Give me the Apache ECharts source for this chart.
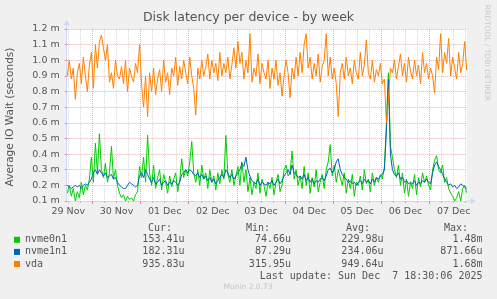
<!DOCTYPE html>
<html><head><meta charset="utf-8">
<script src="https://cdn.jsdelivr.net/npm/echarts@6/dist/echarts.min.js"></script>
<style>html,body{margin:0;padding:0;background:#f0f0f0}#c{width:497px;height:299px}</style>
</head><body><div id="c"></div>
<script>
// hours are counted from 29 Nov 00:00
const axisStartHour = 11.2;
const axisEndHour = 210.5;
const firstSampleHour = 11.5;   // one sample per hour
const dayLabels = ['29 Nov','30 Nov','01 Dec','02 Dec','03 Dec','04 Dec','05 Dec','06 Dec','07 Dec'];
const seriesNames = ['nvme0n1','nvme1n1','vda'];
const seriesColors = ['#00CC00','#0066B3','#FF8000'];

// values in milliseconds
const nvme0n1Ms = [
 0.15,0.2,0.13,0.18,0.1,0.16,0.12,0.22,0.14,0.2,0.17,0.24,
 0.38,0.22,0.47,0.28,0.53,
 0.3,0.25,0.34,0.22,0.28,0.45,0.24,0.3,0.2,
 0.15,0.12,0.14,0.1,0.13,0.11,0.12,0.1,0.14,0.16,
 0.32,0.25,0.38,0.22,0.52,
 0.28,0.2,0.33,0.18,0.25,0.3,0.17,0.27,0.22,0.15,0.26,0.19,0.24,0.28,0.16,0.23,
 0.37,0.25,0.3,0.26,0.35,0.48,0.28,0.22,
 0.3,0.2,0.33,0.24,0.28,0.18,0.3,0.22,0.26,0.17,0.28,0.21,0.3,0.24,
 0.52,0.27,0.22,0.3,0.2,0.26,
 0.32,0.2,0.35,0.22,0.3,0.16,0.25,0.14,0.22,0.18,0.28,0.15,0.24,0.2,0.13,0.22,
 0.18,0.25,0.14,0.22,0.27,0.16,0.2,0.3,
 0.33,0.26,0.28,0.42,0.24,0.3,0.2,
 0.26,0.18,0.32,0.2,0.28,0.15,0.25,0.19,0.3,0.16,0.22,0.27,0.18,
 0.3,0.35,0.46,0.26,0.33,0.22,0.3,0.25,
 0.2,0.28,0.15,0.24,0.18,0.27,0.13,0.22,0.2,0.26,0.17,0.3,0.21,0.24,0.16,0.28,0.2,0.25,0.22,0.27,0.24,0.32,
 0.6,0.92,0.45,
 0.38,0.3,0.25,0.33,0.2,0.28,0.15,0.24,0.13,0.22,0.18,0.27,0.14,0.25,0.19,0.28,0.22,0.26,0.2,0.17,
 0.3,0.36,0.39,0.3,0.28,0.33,0.22,0.25,0.18,
 0.15,0.13,0.1,0.12,0.16,0.1,0.18,0.2,
 0.153
];
const nvme1n1Ms = [
 0.2,0.19,0.18,0.19,0.2,0.19,0.2,0.18,0.2,0.21,0.2,0.22,
 0.24,0.28,0.3,0.27,0.3,
 0.28,0.26,0.28,0.25,0.26,0.27,0.24,0.25,0.22,
 0.2,0.19,0.18,0.18,0.2,0.22,0.21,0.2,0.19,0.2,
 0.26,0.28,0.25,0.3,0.27,
 0.24,0.22,0.25,0.21,0.22,0.24,0.2,0.22,0.23,0.2,0.22,0.21,0.23,0.22,0.2,0.22,
 0.27,0.28,0.3,0.28,0.3,0.29,0.27,0.26,
 0.28,0.25,0.27,0.24,0.26,0.23,0.25,0.22,0.24,0.21,0.23,0.25,0.27,0.25,
 0.3,0.28,0.25,0.27,0.24,0.26,
 0.28,0.3,0.34,0.32,0.38,0.3,0.26,0.23,0.22,0.21,0.24,0.2,0.22,0.21,0.2,0.22,
 0.21,0.23,0.2,0.22,0.24,0.21,0.23,0.26,
 0.28,0.3,0.27,0.33,0.28,0.27,0.25,
 0.26,0.24,0.27,0.23,0.25,0.22,0.24,0.21,0.23,0.22,0.24,0.25,0.23,
 0.26,0.3,0.31,0.28,0.3,0.35,0.37,0.3,
 0.27,0.25,0.24,0.22,0.23,0.21,0.22,0.2,0.22,0.23,0.21,0.24,0.22,0.23,0.21,0.24,0.22,0.25,0.24,0.26,0.27,0.3,
 0.55,0.88,0.4,
 0.3,0.27,0.26,0.28,0.24,0.25,0.22,0.23,0.21,0.22,0.21,0.23,0.2,0.22,0.21,0.23,0.22,0.24,0.22,0.21,
 0.28,0.33,0.35,0.32,0.3,0.27,0.24,0.22,0.2,
 0.21,0.19,0.2,0.18,0.19,0.21,0.2,0.19,
 0.182
];
const vdaMs = [
 0.9,1.0,0.88,0.95,0.75,0.92,0.98,0.85,1.02,0.9,0.8,0.97,
 1.05,0.82,1.1,0.95,1.12,1.16,1.08,1.0,1.1,0.86,0.92,0.82,1.0,0.9,
 0.88,0.96,0.85,1.0,0.8,0.95,0.9,0.86,0.98,0.92,
 1.1,0.85,0.7,0.9,0.64,
 0.92,0.8,0.95,0.78,0.88,0.94,0.8,1.0,0.86,0.92,0.78,0.95,0.9,1.02,0.84,0.96,
 0.88,1.0,0.92,0.85,1.02,0.9,0.82,0.65,
 0.95,0.88,1.0,0.9,0.96,1.04,0.88,1.0,0.92,0.98,0.87,1.05,0.9,0.98,
 0.92,1.02,0.88,0.97,1.08,0.95,
 1.12,0.98,1.05,0.88,1.0,0.92,1.17,0.86,0.95,0.9,1.04,0.85,0.98,0.92,0.88,1.0,
 0.82,0.95,0.88,1.0,0.84,0.92,0.77,0.9,
 1.0,0.92,0.76,0.95,0.88,1.02,0.9,
 1.05,0.92,1.1,1.17,0.95,1.02,0.88,0.98,0.9,1.04,0.86,0.96,1.0,
 1.17,0.9,1.02,0.88,0.95,0.85,0.64,0.92,
 0.98,0.88,1.02,0.9,0.95,0.85,1.0,0.92,0.88,1.05,0.9,0.97,1.13,0.92,0.88,1.0,0.86,0.94,0.9,0.98,0.85,0.88,
 0.6,0.75,0.95,
 0.92,1.0,0.88,0.96,1.04,0.9,0.98,0.86,1.02,0.93,0.88,1.0,0.9,0.97,0.85,1.05,0.92,0.98,0.88,0.95,
 0.9,0.79,1.02,0.94,1.17,0.92,1.05,0.98,1.14,
 0.9,1.02,0.95,0.88,1.05,0.92,0.98,1.12,
 0.936
];
const curVals = ['153.41u','182.31u','935.83u'];
const minVals = ['74.66u','87.29u','315.95u'];
const avgVals = ['229.98u','234.06u','949.64u'];
const maxVals = ['1.48m','871.66u','1.68m'];
const lastUpdate = 'Last update: Sun Dec  7 18:30:06 2025';

const dayTicks = [], sixHourTicks = [], noonTicks = [];
for (let h = 0; h <= 216; h += 6) {
  if (h < axisStartHour || h > axisEndHour) continue;
  if (h % 24 === 0) dayTicks.push(h);
  else sixHourTicks.push(h);
  if (h % 24 === 12) noonTicks.push(h);
}
noonTicks.unshift(12);
const uniqNoon = Array.from(new Set(noonTicks.concat([12]))).sort((a,b)=>a-b);

const allData = [nvme0n1Ms, nvme1n1Ms, vdaMs];
const series = allData.map((arr, k) => ({
  name: seriesNames[k], type: 'line', showSymbol: false, symbol: 'none',
  sampling: null, clip: true, animation: false,
  lineStyle: { width: 1, color: seriesColors[k] }, itemStyle: { color: seriesColors[k] },
  data: arr.map((v, i) => [firstSampleHour + i, v])
}));

const arrowPath = 'path://M3,0 L6,5 L3.5,5 L3.5,9 L2.5,9 L2.5,5 L0,5 Z';
const axisColor = '#CFD6F8';
const mono = '"DejaVu Sans Mono", monospace';
const txtColor = '#555';
function txt(text, x, y, align, extra) {
  return Object.assign({ type: 'text', silent: true, style: Object.assign({
    text: text, x: x, y: y, textAlign: align, textVerticalAlign: 'middle',
    fontFamily: mono, fontSize: 10, fill: txtColor }, extra || {}) });
}
const graphics = [];
graphics.push(txt('Cur:', 172, 228, 'right'));
graphics.push(txt('Min:', 270, 228, 'right'));
graphics.push(txt('Avg:', 370, 228, 'right'));
graphics.push(txt('Max:', 468, 228, 'right'));
for (let r = 0; r < 3; r++) {
  const y = 239.8 + r * 12.1;
  graphics.push(txt(curVals[r], 184.5, y, 'right'));
  graphics.push(txt(minVals[r], 291, y, 'right'));
  graphics.push(txt(avgVals[r], 383.5, y, 'right'));
  graphics.push(txt(maxVals[r], 482.5, y, 'right'));
}
graphics.push(txt(lastUpdate, 482.5, 276.5, 'right'));
graphics.push({ type: 'text', silent: true, x: 248, y: 287.5, style: { text: 'Munin 2.0.73', x: 0, y: 0, textAlign: 'center', textVerticalAlign: 'middle', fontFamily: 'DejaVu Sans', fontSize: 7.5, fill: '#c4c4c4' } });
graphics.push({ type: 'text', silent: true, x: 10, y: 117, rotation: Math.PI / 2, style: { text: 'Average IO Wait (seconds)', x: 0, y: 0, textAlign: 'center', textVerticalAlign: 'middle', fontFamily: 'DejaVu Sans', fontSize: 10.5, fill: txtColor } });
graphics.push({ type: 'text', silent: true, x: 487, y: 53, rotation: -Math.PI / 2, style: { text: 'RRDTOOL / TOBI OETIKER', x: 0, y: 0, textAlign: 'center', textVerticalAlign: 'middle', fontFamily: 'DejaVu Sans', fontSize: 7.5, fill: '#c8c8c8' } });

const chart = echarts.init(document.getElementById('c'), null, { renderer: 'canvas' });
chart.setOption({
  animation: false,
  backgroundColor: '#F0F0F0',
  textStyle: { fontFamily: 'DejaVu Sans' },
  title: { text: 'Disk latency per device - by week', left: 'center', top: 11, padding: 0,
    textStyle: { fontFamily: 'DejaVu Sans', fontSize: 12.5, fontWeight: 'normal', color: txtColor } },
  legend: { orient: 'vertical', left: 14, top: 233.8, padding: 0, itemGap: 0.1,
    itemWidth: 6, itemHeight: 6, icon: 'rect', selectedMode: false,
    textStyle: { fontFamily: mono, fontSize: 10, color: txtColor, lineHeight: 12 },
    data: seriesNames },
  grid: { left: 66.7, right: 30.3, top: 29, bottom: 98, show: true, backgroundColor: '#FFFFFF', borderWidth: 0 },
  xAxis: [{
    type: 'value', min: axisStartHour, max: axisEndHour,
    axisLine: { show: true, lineStyle: { color: axisColor, width: 1 }, symbol: ['none', arrowPath], symbolSize: [6, 9], symbolOffset: [0, 4.5] },
    axisTick: { show: true, customValues: dayTicks, length: 3, lineStyle: { color: 'rgba(255,0,0,0.45)' } },
    axisLabel: { customValues: uniqNoon, margin: 6, fontFamily: 'DejaVu Sans', fontSize: 9.5, color: txtColor,
      formatter: v => dayLabels[Math.round((v - 12) / 24)] || '' },
    splitLine: { show: true, lineStyle: { color: 'rgba(255,0,0,0.35)', type: [1, 1], width: 1 } }
  }, {
    type: 'value', min: axisStartHour, max: axisEndHour, position: 'bottom',
    axisLine: { show: false }, axisLabel: { show: false },
    axisTick: { show: true, customValues: sixHourTicks, length: 2, lineStyle: { color: 'rgba(128,128,128,0.4)' } },
    splitLine: { show: true, lineStyle: { color: 'rgba(140,140,140,0.35)', type: [1, 1], width: 1 } }
  }],
  yAxis: {
    type: 'value', min: 0.1, max: 1.2, interval: 0.1,
    axisLine: { show: true, lineStyle: { color: axisColor, width: 1 }, symbol: ['none', arrowPath], symbolSize: [6, 9], symbolOffset: [0, 4.5] },
    axisTick: { show: true, length: 2, lineStyle: { color: 'rgba(255,0,0,0.45)' } },
    axisLabel: { margin: 7, fontFamily: 'DejaVu Sans', fontSize: 9.5, color: txtColor, formatter: v => v.toFixed(1) + ' m' },
    splitLine: { show: true, lineStyle: { color: 'rgba(255,0,0,0.35)', type: [1, 1], width: 1 } }
  },
  series: series,
  graphic: graphics
});
</script>
</body></html>
